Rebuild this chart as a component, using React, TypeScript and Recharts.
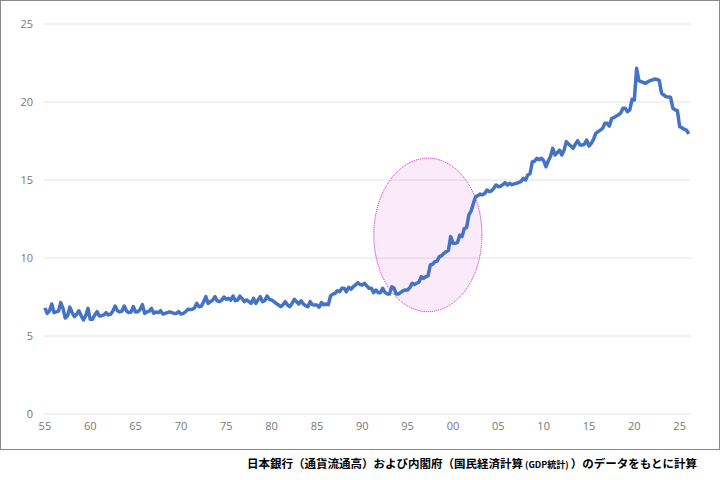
import React from 'react';
import {
  LineChart,
  Line,
  XAxis,
  YAxis,
  CartesianGrid,
  ReferenceArea,
} from 'recharts';

// currency in circulation / nominal GDP (%), quarterly
const ratio1955s = [
  6.8, 6.45, 6.6, 7.05,
  6.5, 6.55, 6.6, 7.14,
  6.75, 6.15, 6.3, 6.85,
  6.5, 6.25, 6.4, 6.62,
  6.3, 6.03, 6.3, 6.77,
];
const ratio1960s = [
  6.07, 6.07, 6.35, 6.56,
  6.28, 6.3, 6.35, 6.5,
  6.35, 6.4, 6.6, 6.92,
  6.62, 6.54, 6.6, 6.92,
  6.6, 6.5, 6.54, 6.88,
  6.54, 6.55, 6.7, 7.01,
  6.45, 6.54, 6.6, 6.77,
  6.45, 6.54, 6.5, 6.62,
  6.41, 6.45, 6.5, 6.55,
  6.5, 6.45, 6.45, 6.56,
];
const ratio1970s = [
  6.41, 6.45, 6.55, 6.71,
  6.7, 6.71, 6.8, 7.09,
  6.88, 6.9, 7.2, 7.52,
  7.09, 7.2, 7.3, 7.52,
  7.25, 7.2, 7.3, 7.5,
  7.35, 7.42, 7.3, 7.56,
  7.26, 7.3, 7.56, 7.4,
  7.2, 7.31, 7.2, 7.09,
  7.42, 7.09, 7.3, 7.52,
  7.2, 7.26, 7.56, 7.35,
];
const ratio1980s = [
  7.31, 7.2, 7.09, 6.99,
  6.88, 7.0, 7.2, 7.0,
  6.88, 7.09, 7.35, 7.2,
  7.05, 7.26, 7.05, 6.95,
  6.88, 7.2, 7.0, 6.99,
  6.99, 6.85, 7.14, 7.0,
  7.05, 7.0, 7.56, 7.69,
  7.74, 7.9, 7.84, 8.06,
  8.06, 7.84, 8.12, 8.0,
  8.16, 8.27, 8.42, 8.3,
];
const ratio1990s = [
  8.27, 8.38, 8.21, 8.06,
  8.06, 7.78, 7.95, 7.78,
  7.78, 8.06, 7.8, 7.7,
  7.69, 8.16, 8.06, 7.69,
  7.7, 7.8, 7.9, 7.95,
  7.95, 8.1, 8.38, 8.3,
  8.38, 8.45, 8.8, 8.7,
  8.8, 8.85, 9.55, 9.6,
  9.76, 9.8, 10.09, 10.15,
  10.3, 10.4, 10.5, 11.37,
];
const ratio2000s = [
  10.94, 10.94, 11.0, 11.47,
  11.37, 11.9, 11.95, 12.76,
  13.0, 13.5, 13.93, 14.0,
  14.1, 14.05, 14.14, 14.36,
  14.25, 14.3, 14.47, 14.68,
  14.57, 14.6, 14.7, 14.83,
  14.68, 14.79, 14.7, 14.75,
  14.79, 14.85, 14.9, 15.1,
  15.0, 15.32, 15.4, 16.17,
  16.2, 16.39, 16.3, 16.39,
];
const ratio2010s = [
  16.24, 15.85, 16.2, 16.5,
  17.03, 16.6, 16.75, 16.92,
  16.6, 16.9, 17.46, 17.3,
  17.18, 17.03, 17.3, 17.52,
  17.24, 17.24, 17.3, 17.56,
  17.18, 17.35, 17.6, 17.99,
  18.1, 18.2, 18.31, 18.63,
  18.63, 18.46, 18.95, 19.0,
  19.1, 19.17, 19.3, 19.6,
  19.6, 19.38, 19.5, 20.17,
];
const ratio2020s = [
  20.13, 22.16, 21.37, 21.3,
  21.25, 21.2, 21.3, 21.37,
  21.42, 21.47, 21.45, 21.37,
  20.56, 20.45, 20.34, 20.32,
  20.3, 19.6, 19.5, 19.44,
  18.42, 18.35, 18.25, 18.2,
  17.95,
];

const firstYear = 1955;
const yearTicks = [1955, 1960, 1965, 1970, 1975, 1980, 1985, 1990, 1995, 2000, 2005, 2010, 2015, 2020, 2025];
const valueTicks = [0, 5, 10, 15, 20, 25];

// highlighted period (years) and value span
const highlightYears = [1991.27, 2003.2];
const highlightValues = [6.56, 16.4];

const caption = '日本銀行（通貨流通高）および内閣府（国民経済計算';
const captionSmall = ' (GDP統計) ';
const captionTail = '）のデータをもとに計算';

const allRatios = [
  ...ratio1955s,
  ...ratio1960s,
  ...ratio1970s,
  ...ratio1980s,
  ...ratio1990s,
  ...ratio2000s,
  ...ratio2010s,
  ...ratio2020s,
];

const data = allRatios.map((v, i) => ({ t: firstYear + i / 4, ratio: v }));

const tickStyle = { fontSize: 11, fill: '#777777', fontFamily: 'Open Sans' };

const Ellipse = (props: any) => {
  const { x, y, width, height } = props;
  return (
    <ellipse
      cx={x + width / 2}
      cy={y + height / 2}
      rx={width / 2}
      ry={height / 2}
      fill="#cc33cc"
      fillOpacity={0.1}
      stroke="#cc11cc"
      strokeWidth={1}
      strokeDasharray="1 1"
    />
  );
};

export default function App() {
  return (
    <div style={{ position: 'absolute', left: 0, top: 0, width: 720, height: 480, background: '#fff' }}>
      <LineChart
        width={720}
        height={450}
        data={data}
        margin={{ top: 24, right: 29, left: 0, bottom: 6 }}
      >
        <CartesianGrid vertical={false} stroke="#e2e2e2" />
        <XAxis
          type="number"
          dataKey="t"
          domain={[1954.9, 2026.25]}
          ticks={yearTicks}
          tickFormatter={(v: number) => String(v % 100).padStart(2, '0')}
          axisLine={false}
          tickLine={false}
          tick={tickStyle}
          height={30}
          interval={0}
        />
        <YAxis
          domain={[0, 25]}
          ticks={valueTicks}
          axisLine={false}
          tickLine={false}
          tick={tickStyle}
          tickMargin={5}
          width={44}
        />
        <ReferenceArea
          x1={highlightYears[0]}
          x2={highlightYears[1]}
          y1={highlightValues[0]}
          y2={highlightValues[1]}
          ifOverflow="visible"
          shape={Ellipse}
        />
        <Line
          type="linear"
          dataKey="ratio"
          stroke="#4472c4"
          strokeWidth={3.5}
          strokeLinejoin="round"
          dot={false}
          isAnimationActive={false}
        />
      </LineChart>
      <div
        style={{
          position: 'absolute',
          left: 0,
          top: 0,
          width: 720,
          height: 450,
          boxSizing: 'border-box',
          border: '1px solid #8a8a8a',
          pointerEvents: 'none',
        }}
      />
      <div
        style={{
          position: 'absolute',
          left: 0,
          top: 455,
          width: 697,
          textAlign: 'right',
          fontFamily: '"Noto Sans CJK JP", sans-serif',
          fontWeight: 'bold',
          fontSize: 11.5,
          lineHeight: '16px',
          color: '#000',
          whiteSpace: 'pre',
        }}
      >
        {caption}
        <span style={{ fontSize: 9 }}>{captionSmall}</span>
        {captionTail}
      </div>
    </div>
  );
}
